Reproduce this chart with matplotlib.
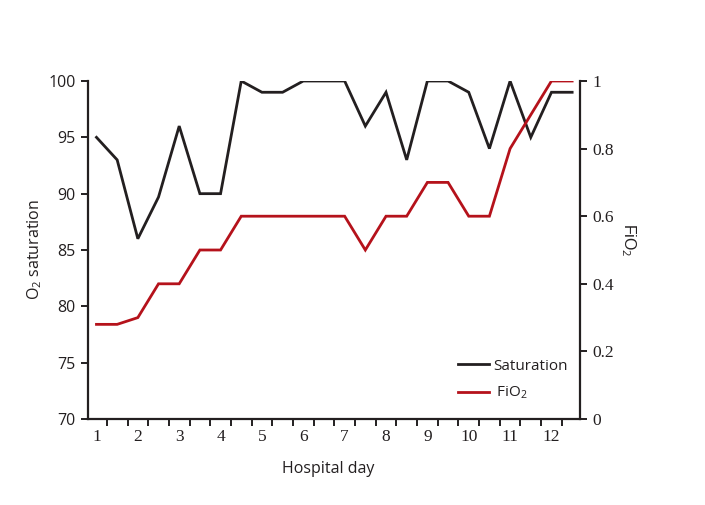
import matplotlib
matplotlib.use("Agg")
import matplotlib.pyplot as plt
import numpy as np

# Data (readings twice per hospital day, day 1 to 12.5)
days = [1, 1.5, 2, 2.5, 3, 3.5, 4, 4.5, 5, 5.5, 6, 6.5, 7, 7.5, 8, 8.5,
        9, 9.5, 10, 10.5, 11, 11.5, 12, 12.5]
saturation = [95, 93, 86, 89.7, 96, 90, 90, 100, 99, 99, 100, 100, 100, 96, 99, 93,
              100, 100, 99, 94, 100, 95, 99, 99]
fio2 = [0.28, 0.28, 0.30, 0.40, 0.40, 0.50, 0.50, 0.60, 0.60, 0.60, 0.60, 0.60, 0.60,
        0.50, 0.60, 0.60, 0.70, 0.70, 0.60, 0.60, 0.80, 0.90, 1.0, 1.0]
day_labels = [str(d) for d in range(1, 13)]
left_ticks = [70, 75, 80, 85, 90, 95, 100]
right_ticks = [0, 0.2, 0.4, 0.6, 0.8, 1.0]
right_labels = ["0", "0.2", "0.4", "0.6", "0.8", "1"]

BLACK = "#231f20"
RED = "#b5121b"
SANS = "Open Sans"
SERIF = "Liberation Serif"

plt.rcParams["mathtext.fontset"] = "custom"
plt.rcParams["mathtext.rm"] = SANS
plt.rcParams["mathtext.it"] = SANS

fig = plt.figure(figsize=(7.05, 5.05), dpi=100)
ax = fig.add_axes([88/705, 1-419/505, 492/705, 338/505])
ax2 = ax.twinx()

l1, = ax.plot(days, saturation, color=BLACK, lw=2.0, label="Saturation", solid_joinstyle="miter")
l2, = ax2.plot(days, fio2, color=RED, lw=2.0, label=" FiO$_2$", solid_joinstyle="miter")

ax.set_xlim(0.795, 12.69)
ax.set_ylim(70, 100)
ax2.set_ylim(0, 1)

for a in (ax, ax2):
    a.spines["top"].set_visible(False)
    for s in a.spines.values():
        s.set_linewidth(1.6)
        s.set_color(BLACK)
ax.spines["right"].set_visible(False)
ax2.spines["left"].set_visible(False)
ax2.spines["bottom"].set_visible(False)

# x ticks: labels at integers (no marks), marks at half-day offsets
ax.set_xticks(range(1, 13))
ax.set_xticklabels(day_labels, fontfamily=SERIF, fontsize=12.5, color=BLACK)
ax.set_xticks(np.arange(1.25, 12.3, 0.5), minor=True)
ax.tick_params(axis="x", which="major", length=0, pad=7.5)
ax.tick_params(axis="x", which="minor", length=5, width=1.4, color=BLACK, direction="out")

ax.set_yticks(left_ticks)
ax.set_yticklabels([str(t) for t in left_ticks], fontfamily=SANS, fontsize=11.5, color=BLACK)
ax.tick_params(axis="y", length=5, width=1.4, color=BLACK, direction="out", pad=4)

ax2.set_yticks(right_ticks)
ax2.set_yticklabels(right_labels, fontfamily=SERIF, fontsize=12.5, color=BLACK)
ax2.tick_params(axis="y", length=5, width=1.4, color=BLACK, direction="out", pad=4)

ax.set_xlabel("Hospital day", fontfamily=SANS, fontsize=11.5, color=BLACK)
ax.xaxis.set_label_coords(0.488, -0.125)
ax.set_ylabel("O$_2$ saturation", fontfamily=SANS, fontsize=11.5, color=BLACK)
ax.yaxis.set_label_coords(-0.09, 0.5)
ax2.set_ylabel("FiO$_2$", fontfamily="Liberation Sans", fontsize=11.5, color=BLACK,
               rotation=-90, va="center")
ax2.yaxis.set_label_coords(1.098, 0.53)

leg = ax2.legend([l1, l2], ["Saturation", " FiO$_2$"], loc="center left",
                 bbox_to_anchor=((458-88)/492, (419-380)/338), frameon=False,
                 handlelength=2.0, handletextpad=0.3, labelspacing=0.75,
                 prop={"family": SANS, "size": 11}, borderpad=0, borderaxespad=0)
for t in leg.get_texts():
    t.set_color(BLACK)

fig.savefig("out.png", dpi=100)
